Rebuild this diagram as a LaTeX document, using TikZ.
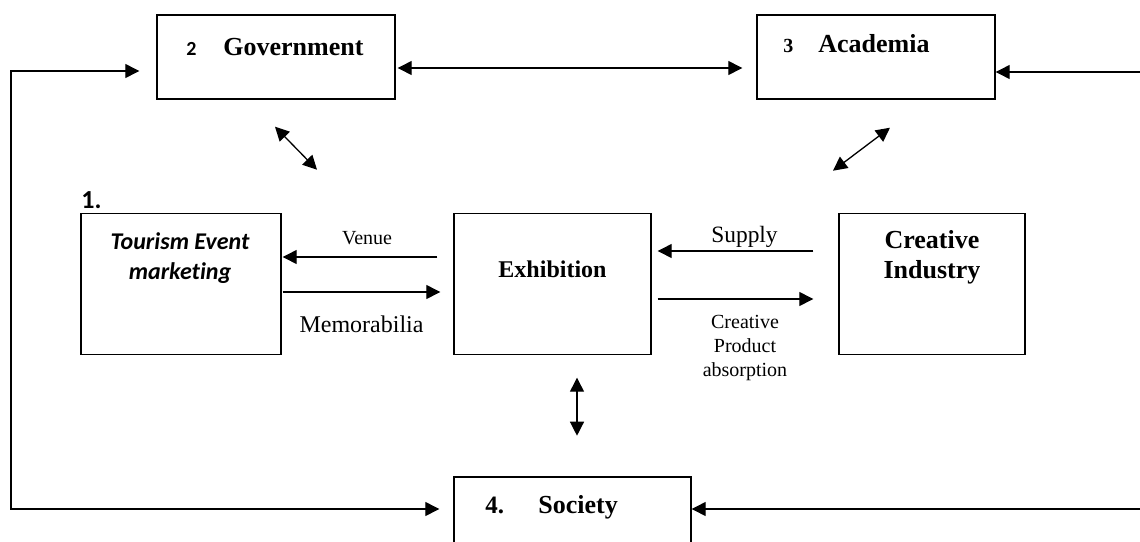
\documentclass[tikz,border=0pt]{standalone}
\usepackage{fontspec}
\setmainfont{Liberation Serif}
\newfontfamily\calibri[Ligatures=NoCommon]{Carlito}
\usetikzlibrary{arrows.meta}

\begin{document}
\begin{tikzpicture}[x=0.5pt,y=-0.5pt,>={Triangle[length=7pt,width=7pt]}]
\tikzstyle{box}=[draw,line width=0.7pt,inner sep=0pt]
\tikzstyle{con}=[line width=0.65pt]
\tikzstyle{hd}=[font=\fontsize{13}{15}\selectfont\bfseries,inner sep=0pt]
\tikzstyle{lbl}=[inner sep=0pt]
\useasboundingbox (0,0) rectangle (1140,541);
\clip (0,0) rectangle (1140,541);
\node[box,minimum width=119pt,minimum height=42pt] (gov) at (276,57) {};
\node[box,minimum width=119pt,minimum height=42pt] (acad) at (876,57) {};
\node[box,minimum width=100pt,minimum height=70.5pt] (tour) at (181,284) {};
\node[box,minimum width=98.5pt,minimum height=70.5pt] (exh) at (552.5,284) {};
\node[box,minimum width=93pt,minimum height=70.5pt] (crea) at (932,284) {};
\node[box,minimum width=118.5pt,minimum height=42pt] (soc) at (572.5,519) {};
\node[lbl,anchor=base west,font=\calibri\bfseries\fontsize{10}{12}\selectfont] (govnum) at (186,55) {2};
\node[hd,anchor=base west] (govtxt) at (223,55) {Government};
\node[lbl,anchor=base west,font=\bfseries\fontsize{10}{12}\selectfont] (acadnum) at (783,52) {3};
\node[hd,anchor=base west] (acadtxt) at (818,52) {Academia};
\node[lbl,anchor=base west,font=\calibri\bfseries\fontsize{13}{15}\selectfont] (tournum) at (81,208) {1.};
\node[lbl,align=center,font=\calibri\bfseries\itshape\fontsize{12}{15}\selectfont] (tourtxt) at (180,258) {Tourism Event\\marketing};
\node[hd,anchor=base,font=\fontsize{12}{14}\selectfont\bfseries] (exhtxt) at (552.5,277) {Exhibition};
\node[hd,align=center] (creatxt) at (932,257) {Creative\\Industry};
\node[lbl,anchor=base west,font=\bfseries\fontsize{12.5}{14}\selectfont] (socnum) at (485,513) {4.};
\node[hd,anchor=base west] (soctxt) at (538,513) {Society};
\node[lbl,anchor=base,font=\fontsize{10}{12}\selectfont] (venue) at (367,244) {Venue};
\node[lbl,anchor=base,font=\fontsize{12}{14}\selectfont] (memo) at (361.5,332) {Memorabilia};
\node[lbl,anchor=base,font=\fontsize{11.7}{14}\selectfont] (supply) at (744.5,242) {Supply};
\node[lbl,align=center,font=\fontsize{10}{12}\selectfont] (absorb) at (745,348) {Creative\\Product\\absorption};
\coordinate (lft) at (11,300);
\coordinate (rtop) at (1140,72);
\coordinate (rbot) at (1140,509);
\draw[con,<->,shorten <=1pt,shorten >=7pt] ([yshift=-5.5pt]gov.east) -- ([yshift=-5.5pt]acad.west);
\draw[con,<->,shorten <=8.5pt,shorten >=7pt] ([yshift=-7pt]gov.west) -| (lft) |- ([yshift=5pt]soc.west);
\draw[con,->] (rtop) -- ([yshift=-7.5pt]acad.east);
\draw[con,->] (rbot) -- ([yshift=5pt]soc.east);
\draw[con,<->] ([shift={(-1,27)}]gov.south) -- ([shift={(41,70)}]gov.south);
\draw[con,<->] ([shift={(14,28)}]acad.south) -- ([shift={(-43,71)}]acad.south);
\draw[con,<->] ([shift={(24.5,22.5)}]exh.south) -- ([shift={(24.5,80.5)}]exh.south);
\draw[con,->,shorten <=8pt,shorten >=0.5pt] ([yshift=13.5pt]exh.west) -- ([yshift=13.5pt]tour.east);
\draw[con,->,shorten <=0.5pt,shorten >=6.5pt] ([yshift=-4pt]tour.east) -- ([yshift=-4pt]exh.west);
\draw[con,->,shorten <=12.5pt,shorten >=3pt] ([yshift=16.5pt]crea.west) -- ([yshift=16.5pt]exh.east);
\draw[con,->,shorten <=3pt,shorten >=12.5pt] ([yshift=-7.5pt]exh.east) -- ([yshift=-7.5pt]crea.west);
\end{tikzpicture}
\end{document}
